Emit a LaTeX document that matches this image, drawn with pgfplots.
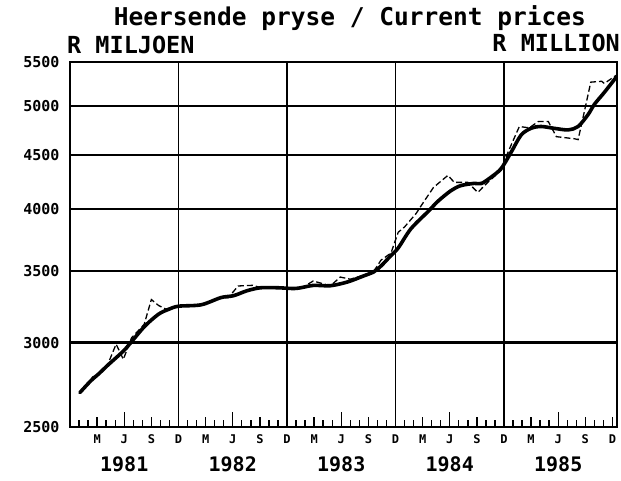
\documentclass[border=0pt]{standalone}
\usepackage{pgfplots}
\pgfplotsset{compat=1.18}
\usepackage{fontspec}
\setmainfont{DejaVu Sans Mono}
\pgfplotstableread{
m v
1.1 2693
2.3 2762
3.2 2805
4.2 2858
5.9 2945
6.8 3005
8.3 3110
9.8 3190
10.9 3223
12.0 3245
14.5 3255
16.7 3306
18.1 3320
19.6 3356
21.1 3377
23.0 3377
25.0 3372
26.9 3394
28.8 3392
30.7 3420
32.5 3465
33.6 3495
34.4 3540
35.5 3621
36.3 3680
37.7 3836
39.6 3982
40.7 4071
42.1 4163
43.2 4210
44.7 4231
45.5 4230
46.6 4290
47.7 4370
48.8 4527
49.9 4697
51.0 4766
52.1 4784
53.5 4766
55.1 4749
56.2 4784
57.3 4909
58.0 5019
59.1 5150
60.4 5320
}\trend
\pgfplotstableread{
m v
1.1 2693
2.0 2745
2.5 2785
3.2 2800
4.2 2865
5.1 2990
5.9 2893
6.8 3030
8.2 3120
9.0 3292
9.8 3250
10.6 3225
12.0 3245
13.5 3252
14.8 3260
16.7 3306
17.5 3305
18.6 3390
20.2 3395
21.0 3380
23.0 3377
25.5 3370
26.9 3427
28.8 3391
29.9 3456
31.0 3440
32.5 3470
33.6 3500
34.4 3585
35.5 3640
36.3 3807
37.0 3851
38.3 3967
38.8 4027
40.2 4194
41.8 4305
42.5 4240
44.0 4240
45.1 4149
46.2 4240
47.7 4352
48.0 4434
48.8 4598
49.7 4784
50.8 4770
51.8 4837
52.9 4837
53.1 4800
53.8 4680
55.8 4659
56.2 4650
56.9 4946
57.6 5265
58.8 5275
59.1 5250
60.4 5343
}\actual
\begin{document}
\begin{tikzpicture}[x=1pt,y=1pt]
\path[use as bounding box] (0,0) rectangle (621,481);
\begin{axis}[
  at={(70pt,54pt)}, anchor=south west,
  scale only axis, width=547pt, height=365pt,
  xmin=0, xmax=60.5, ymin=2500, ymax=5500, ymode=log,
  axis line style={line width=1.8pt},
  ytick={2500,3000,3500,4000,4500,5000,5500},
  yticklabels={2500,3000,3500,4000,4500,5000,5500},
  ymajorgrids, xmajorgrids=false, xminorgrids=false,
  y grid style={line width=2.2pt,black},
  ytick style={draw=none},
  yticklabel style={font=\bfseries\fontsize{15}{15}\selectfont, xshift=-7pt},
  xtick={3,6,...,60},
  xticklabels={M,J,S,D,M,J,S,D,M,J,S,D,M,J,S,D,M,J,S,D},
  minor xtick={0,1,...,60},
  xtick pos=bottom, tick align=inside,
  major tick length=10pt, minor tick length=6.5pt,
  xtick style={line width=1.4pt,black},
  minor tick style={line width=1.4pt,black},
  xticklabel style={font=\bfseries\fontsize{12}{12}\selectfont, yshift=-4pt},
  clip=false,
]
\draw[line width=1.9pt] (axis cs:12,2500) -- (axis cs:12,5500);
\draw[line width=1.9pt] (axis cs:24,2500) -- (axis cs:24,5500);
\draw[line width=1.9pt] (axis cs:36,2500) -- (axis cs:36,5500);
\draw[line width=1.9pt] (axis cs:48,2500) -- (axis cs:48,5500);
\draw[line width=1.4pt] (axis cs:6,2500) -- (axis cs:6,2580);
\draw[line width=1.4pt] (axis cs:18,2500) -- (axis cs:18,2580);
\draw[line width=1.4pt] (axis cs:30,2500) -- (axis cs:30,2580);
\draw[line width=1.4pt] (axis cs:42,2500) -- (axis cs:42,2580);
\draw[line width=1.4pt] (axis cs:54,2500) -- (axis cs:54,2580);
\addplot[black, line width=1.3pt, dash pattern=on 6pt off 3pt] table[x=m,y=v]{\actual};
\addplot[black, line width=3.6pt, line join=round, line cap=round, smooth] table[x=m,y=v]{\trend};
\node[font=\bfseries\fontsize{20}{20}\selectfont] at (axis cs:6,2500) [yshift=-37pt] {1981};
\node[font=\bfseries\fontsize{20}{20}\selectfont] at (axis cs:18,2500) [yshift=-37pt] {1982};
\node[font=\bfseries\fontsize{20}{20}\selectfont] at (axis cs:30,2500) [yshift=-37pt] {1983};
\node[font=\bfseries\fontsize{20}{20}\selectfont] at (axis cs:42,2500) [yshift=-37pt] {1984};
\node[font=\bfseries\fontsize{20}{20}\selectfont] at (axis cs:54,2500) [yshift=-37pt] {1985};
\end{axis}
\node[font=\bfseries\fontsize{24.5}{24.5}\selectfont] at (350,463) {Heersende pryse / Current prices};
\node[font=\bfseries\fontsize{23.5}{23.5}\selectfont, anchor=west, inner sep=0pt] at (67,436) {R MILJOEN};
\node[font=\bfseries\fontsize{23.5}{23.5}\selectfont, anchor=east, inner sep=0pt] at (620,438) {R MILLION};
\end{tikzpicture}
\end{document}
